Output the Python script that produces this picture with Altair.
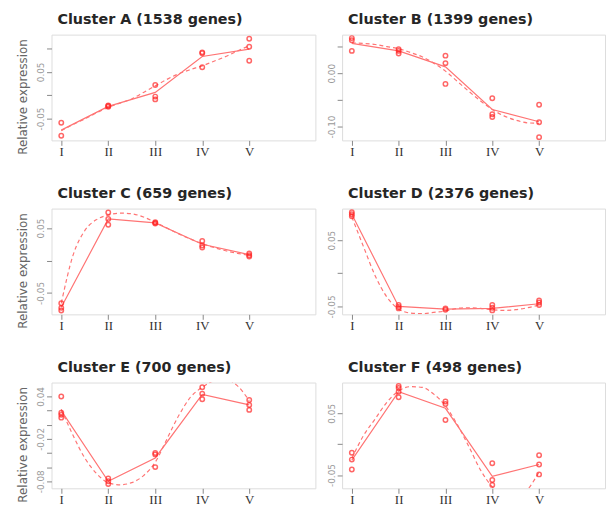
import json
import altair as alt
import pandas as pd

# ---------------- data ----------------
stages = ["I", "II", "III", "IV", "V"]
stage_pos = [1, 2, 3, 4, 5]

titles = ["Cluster A (1538 genes)", "Cluster B (1399 genes)",
          "Cluster C (659 genes)", "Cluster D (2376 genes)",
          "Cluster E (700 genes)", "Cluster F (498 genes)"]

# replicate values per stage (open circles)
pts_A = [[-0.059, -0.087], [-0.022, -0.023, -0.025], [0.022, -0.003, -0.009], [0.092, 0.090, 0.060], [0.121, 0.104, 0.074]]
pts_B = [[0.066, 0.062, 0.042], [0.045, 0.042, 0.037], [0.033, 0.019, -0.020], [-0.047, -0.077, -0.082], [-0.059, -0.092, -0.120]]
pts_C = [[-0.066, -0.073, -0.077], [0.074, 0.064, 0.055], [0.059, 0.058, 0.057], [0.030, 0.023, 0.020], [0.011, 0.008, 0.006]]
pts_D = [[0.092, 0.089, 0.086], [-0.048, -0.051, -0.053], [-0.053, -0.055], [-0.048, -0.052, -0.056], [-0.041, -0.044, -0.048]]
pts_E = [[0.040, 0.017, 0.014, 0.010], [-0.076, -0.080, -0.084], [-0.040, -0.042, -0.060], [0.053, 0.044, 0.036], [0.035, 0.028, 0.021]]
pts_F = [[-0.014, -0.025, -0.041], [0.094, 0.091, 0.085, 0.076], [0.069, 0.065, 0.039], [-0.031, -0.058, -0.066], [-0.018, -0.033, -0.049]]

# mean profile (solid line)
mean_A = [-0.075, -0.024, 0.006, 0.083, 0.099]
mean_B = [0.056, 0.042, 0.012, -0.068, -0.091]
mean_C = [-0.072, 0.064, 0.058, 0.025, 0.009]
mean_D = [0.089, -0.050, -0.054, -0.053, -0.046]
mean_E = [0.020, -0.080, -0.047, 0.043, 0.028]
mean_F = [-0.026, 0.085, 0.058, -0.052, -0.033]

# fitted profile (dashed line), read at quarter steps
fit_x = [1, 1.25, 1.5, 1.75, 2, 2.25, 2.5, 2.75, 3, 3.25, 3.5, 3.75, 4, 4.25, 4.5, 4.75, 5]
fit_A = [-0.076, -0.063, -0.051, -0.038, -0.026, -0.017, -0.008, 0.006, 0.020, 0.034, 0.046, 0.055, 0.063, 0.073, 0.083, 0.095, 0.106]
fit_B = [0.057, 0.056, 0.054, 0.050, 0.046, 0.039, 0.031, 0.019, 0.004, -0.015, -0.034, -0.052, -0.068, -0.080, -0.088, -0.093, -0.094]
fit_C = [-0.066, 0.008, 0.046, 0.063, 0.070, 0.073, 0.072, 0.067, 0.059, 0.050, 0.041, 0.033, 0.026, 0.020, 0.015, 0.011, 0.008]
fit_D = [0.085, 0.040, -0.004, -0.036, -0.054, -0.060, -0.061, -0.059, -0.057, -0.053, -0.052, -0.053, -0.055, -0.056, -0.055, -0.052, -0.048]
fit_E = [0.022, -0.015, -0.047, -0.069, -0.082, -0.085, -0.082, -0.072, -0.053, -0.020, 0.013, 0.039, 0.053, 0.062, 0.064, 0.055, 0.034]
fit_F = [-0.023, 0.014, 0.041, 0.068, 0.086, 0.093, 0.092, 0.081, 0.062, 0.032, -0.004, -0.042, -0.069, -0.085, -0.090, -0.074, -0.045]

# y ranges and ticks per panel
y_dom = [[-0.097, 0.130], [-0.126, 0.0725], [-0.083, 0.080],
         [-0.062, 0.0976], [-0.090, 0.0597], [-0.0715, 0.0997]]
y_ticks = [[-0.05, 0.0, 0.05, 0.10], [-0.10, -0.05, 0.0, 0.05], [-0.05, 0.0, 0.05],
           [-0.05, 0.0, 0.05], [-0.08, -0.06, -0.04, -0.02, 0.0, 0.02, 0.04], [-0.05, 0.0, 0.05]]
y_tick_labels = [["-0.05", "", "0.05", ""], ["-0.10", "", "0.00", ""], ["-0.05", "", "0.05"],
                 ["-0.05", "", "0.05"], ["-0.08", "", "", "-0.02", "", "", "0.04"], ["-0.05", "", "0.05"]]
x_dom = [0.792, 6.408]

all_pts = [pts_A, pts_B, pts_C, pts_D, pts_E, pts_F]
all_mean = [mean_A, mean_B, mean_C, mean_D, mean_E, mean_F]
all_fit = [fit_A, fit_B, fit_C, fit_D, fit_E, fit_F]

RED = "#ff2626"
PINK = "#ff7474"
PLOT_H = 107

x_label_expr = json.dumps(stages) + "[round(datum.value) - 1]"


def panel(i, left):
    pdf = pd.DataFrame([{"x": stage_pos[k], "v": v} for k, vals in enumerate(all_pts[i]) for v in vals])
    mdf = pd.DataFrame({"x": stage_pos, "v": all_mean[i]})
    fdf = pd.DataFrame({"x": fit_x, "v": all_fit[i]})
    ticks = y_ticks[i]
    step = ticks[1] - ticks[0]
    yexpr = json.dumps(y_tick_labels[i]) + f"[round((datum.value - ({ticks[0]})) / {step})]"
    xenc = alt.X("x:Q", scale=alt.Scale(domain=x_dom, nice=False, zero=False),
                 axis=alt.Axis(values=stage_pos, labelExpr=x_label_expr, title=None, grid=False,
                               domain=False, tickSize=5, tickColor="#888", labelPadding=0,
                               labelFont="Liberation Serif", labelFontSize=13, labelColor="#333"))
    yaxis_kw = dict(values=ticks, labelExpr=yexpr, grid=False, domain=False,
                    tickSize=5, tickColor="#888", labelAngle=-90, labelPadding=1,
                    labelFont="DejaVu Sans", labelFontSize=9, labelColor="#999",
                    labelOverlap=False)
    if left:
        yaxis_kw.update(title="Relative expression", titleFont="DejaVu Sans", titleFontSize=12,
                        titleFontWeight="normal", titleColor="#666", titlePadding=7,
                        titleAngle=-90, titleAlign="left", titleY=PLOT_H + 14)
    else:
        yaxis_kw.update(title=None)
    yenc = alt.Y("v:Q", scale=alt.Scale(domain=y_dom[i], nice=False, zero=False),
                 axis=alt.Axis(**yaxis_kw))
    fit = alt.Chart(fdf).mark_line(color=PINK, strokeWidth=1.2, strokeDash=[4, 3],
                                   interpolate="monotone", clip=True).encode(x=xenc, y=yenc)
    mean = alt.Chart(mdf).mark_line(color=PINK, strokeWidth=1.2, clip=True).encode(x=xenc, y=yenc)
    pts = alt.Chart(pdf).mark_point(shape="circle", filled=False, color=RED, size=20,
                                    strokeWidth=1.5, clip=True).encode(x=xenc, y=yenc)
    return alt.layer(fit, mean, pts).properties(
        width=267 if left else 266, height=PLOT_H,
        title=alt.TitleParams(text=titles[i], anchor="start", frame="group", dx=6, offset=7,
                              font="DejaVu Sans", fontSize=14.5, fontWeight="bold", color="#262626"))


panels = [panel(i, i % 2 == 0) for i in range(6)]
chart = alt.concat(*panels, columns=2, spacing={"row": 69, "column": 27}, bounds="flush").properties(
    padding={"left": 8, "top": 1, "right": 0, "bottom": 0}
).configure_view(stroke="#a8a8a8", strokeWidth=1.4).configure(background="white")

chart.save("out.html", embed_options={"renderer": "svg", "actions": False})
